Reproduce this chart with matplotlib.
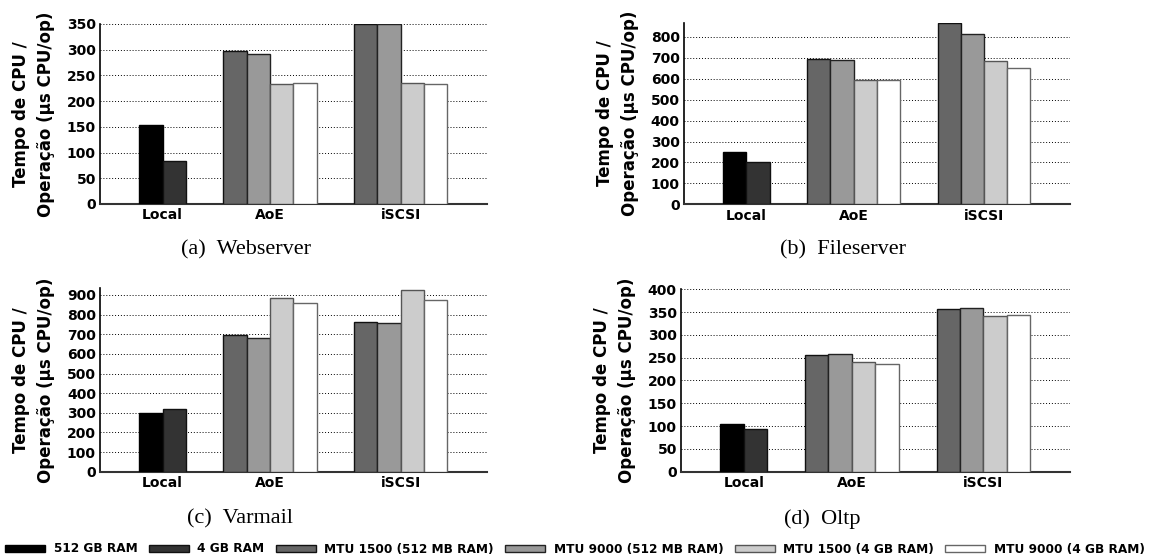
import matplotlib
matplotlib.use("Agg")
import matplotlib.pyplot as plt
from matplotlib.patches import Patch

# series and categories
series = ["512 GB RAM", "4 GB RAM", "MTU 1500 (512 MB RAM)", "MTU 9000 (512 MB RAM)",
          "MTU 1500 (4 GB RAM)", "MTU 9000 (4 GB RAM)"]
categories = ["Local", "AoE", "iSCSI"]

# values (us CPU / op)
webserver_local = [154, 83]
webserver_aoe = [298, 291, 234, 235]
webserver_iscsi = [349, 350, 236, 234]

fileserver_local = [252, 202]
fileserver_aoe = [695, 690, 594, 592]
fileserver_iscsi = [866, 813, 684, 648]

varmail_local = [299, 318]
varmail_aoe = [694, 679, 886, 861]
varmail_iscsi = [760, 757, 927, 873]

oltp_local = [105, 94]
oltp_aoe = [255, 257, 241, 236]
oltp_iscsi = [357, 358, 342, 344]

fills = ['#000000', '#333333', '#666666', '#999999', '#cccccc', '#ffffff']
edges = ['#000000', '#111111', '#111111', '#222222', '#555555', '#666666']

plt.rcParams['font.family'] = ['DejaVu Sans']
plt.rcParams['font.weight'] = 'bold'

fig = plt.figure(figsize=(11.5, 5.59), dpi=100)

panels = [
    # rect, local, aoe, iscsi, ylim, yticks, caption, caption pos (px)
    ([0.0870, 0.6351, 0.3365, 0.3220], webserver_local, webserver_aoe, webserver_iscsi,
     350, range(0, 351, 50), "(a)  Webserver", (246, 250)),
    ([0.5948, 0.6342, 0.3357, 0.3252], fileserver_local, fileserver_aoe, fileserver_iscsi,
     866, range(0, 801, 100), "(b)  Fileserver", (843, 250)),
    ([0.0870, 0.1562, 0.3365, 0.3281], varmail_local, varmail_aoe, varmail_iscsi,
     934, range(0, 901, 100), "(c)  Varmail", (240, 519)),
    ([0.5922, 0.1562, 0.3383, 0.3263], oltp_local, oltp_aoe, oltp_iscsi,
     400, range(0, 401, 50), "(d)  Oltp", (822, 519)),
]

w = 0.178
for rect, loc, aoe, iscsi, ytop, yt, cap, cpos in panels:
    ax = fig.add_axes(rect)
    # Local: first two series in slots 2,3 of group 0
    for k, v in enumerate(loc):
        ax.bar(0 + (k + 2 - 1.5) * w, v, width=w, color=fills[k], edgecolor=edges[k],
               linewidth=1.0, zorder=3)
    for g, vals in ((1, aoe), (2, iscsi)):
        for k, v in enumerate(vals):
            s = k + 2
            ax.bar(g + (k - 1.5) * w, v, width=w, color=fills[s], edgecolor=edges[s],
                   linewidth=1.0, zorder=3)
    ax.set_xlim(-0.30, 2.66)
    ax.set_ylim(0, ytop)
    ax.set_yticks(list(yt))
    ax.set_xticks([w, 1, 2])
    ax.set_xticklabels(categories)
    ax.tick_params(axis='both', length=0, labelsize=10)
    ax.tick_params(axis='y', pad=3)
    ax.tick_params(axis='x', pad=3)
    for t in ax.get_xticklabels() + ax.get_yticklabels():
        t.set_fontweight('bold')
    ax.yaxis.grid(True, linestyle=(0, (1, 2)), color='black', linewidth=0.7)
    ax.set_axisbelow(True)
    ax.spines['top'].set_visible(False)
    ax.spines['right'].set_visible(False)
    ax.spines['left'].set_linewidth(1.2)
    ax.spines['bottom'].set_linewidth(1.5)
    ax.spines['bottom'].set_color('#333333')
    ax.text(-67 / (rect[2] * 1150), 0.5, "Tempo de CPU /\nOperação (µs CPU/op)",
            transform=ax.transAxes, rotation=90, ha='center', va='center',
            fontsize=12, fontweight='bold', linespacing=1.5, multialignment='center')
    fig.text(cpos[0] / 1150, 1 - cpos[1] / 559, cap, ha='center', va='center',
             fontsize=16, fontweight='normal', family='Liberation Serif')

handles = [Patch(facecolor=fills[i], edgecolor=edges[i], linewidth=1.0, label=series[i])
           for i in range(6)]
fig.legend(handles=handles, loc='center', bbox_to_anchor=(0.5, 1 - 549 / 559), ncol=6,
           frameon=False, prop={'size': 8.7, 'weight': 'bold'}, handlelength=3.3,
           handleheight=0.5, handletextpad=0.7, columnspacing=0.95, borderpad=0,
           borderaxespad=0)

fig.savefig("out.png", dpi=100)
